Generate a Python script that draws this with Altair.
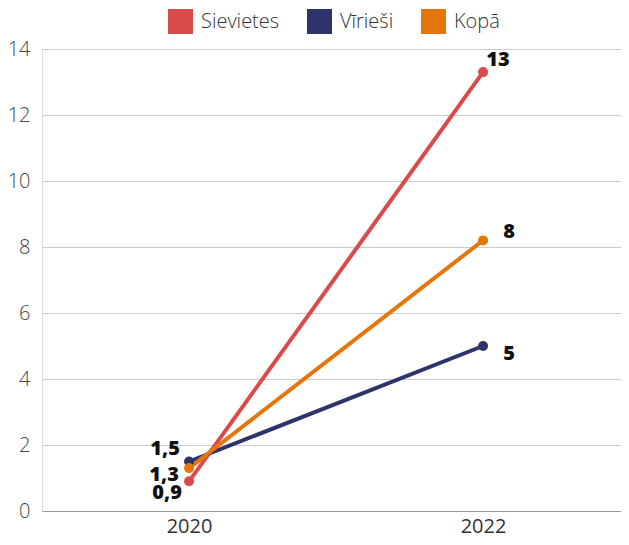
import altair as alt
import pandas as pd

years = ["2020", "2022"]
series = ["Sievietes", "Vīrieši", "Kopā"]
values = {
    "Sievietes": [0.9, 13.3],
    "Vīrieši": [1.5, 5.0],
    "Kopā": [1.3, 8.2],
}
labels = {
    "Sievietes": ["0,9", "13"],
    "Vīrieši": ["1,5", "5"],
    "Kopā": ["1,3", "8"],
}
colors = ["#d94a4b", "#2d336b", "#e5760c"]

rows = []
for s in series:
    for i, y in enumerate(years):
        rows.append({"year": y, "series": s, "value": values[s][i], "label": labels[s][i]})
df = pd.DataFrame(rows)

FONT = "Open Sans"

x = alt.X("year:O", title=None,
          scale=alt.Scale(type="point", padding=0.4847, align=0.516),
          axis=alt.Axis(labelAngle=0, ticks=False, labelFontSize=20, labelColor="#333",
                        labelFontWeight=400, labelPadding=5, domainColor="#999",
                        grid=False, labelFont=FONT))
y = alt.Y("value:Q", title=None,
          scale=alt.Scale(domain=[0, 14], nice=False),
          axis=alt.Axis(values=list(range(0, 15, 2)), ticks=False, domain=False,
                        labelFontSize=20, labelColor="#444", labelFontWeight=300,
                        labelPadding=12, gridColor="#cccccc", labelFont=FONT))
color = alt.Color("series:N", sort=series,
                  scale=alt.Scale(domain=series, range=colors),
                  legend=alt.Legend(title=None, orient="none", legendX=126, legendY=-40,
                                    direction="horizontal",
                                    symbolType="square", symbolSize=625, symbolStrokeWidth=0,
                                    symbolOpacity=1, labelFontSize=20, labelFont=FONT,
                                    labelFontWeight=300,
                                    labelColor="#333", labelOffset=8, columnPadding=27))

base = alt.Chart(df)
lines = base.mark_line(strokeWidth=4).encode(x=x, y=y, color=color,
                                             order=alt.Order("year:O"))
points = base.mark_circle(size=100, opacity=1).encode(x=x, y=y, color=color)

offsets = {
    ("Sievietes", "2020"): (-22, 12),
    ("Vīrieši", "2020"): (-24, -13),
    ("Kopā", "2020"): (-25, 7),
    ("Sievietes", "2022"): (15, -12),
    ("Vīrieši", "2022"): (26, 8),
    ("Kopā", "2022"): (26, -8),
}
texts = []
for (s, yr), (dx, dy) in offsets.items():
    texts.append(
        base.transform_filter((alt.datum.series == s) & (alt.datum.year == yr))
        .mark_text(fontSize=20, fontWeight=800, color="#111", font=FONT,
                   dx=dx, dy=dy, align="center", baseline="middle")
        .encode(x=x, y=y, text="label:N")
    )

chart = alt.layer(lines, points, *texts).properties(
    width=579, height=462,
    autosize=alt.AutoSizeParams(type="none"),
    padding={"left": 34, "top": 41, "right": 0, "bottom": 26}
).configure_view(stroke=None).configure(font=FONT)

chart.save("out.html", embed_options={"renderer": "svg", "actions": False})
